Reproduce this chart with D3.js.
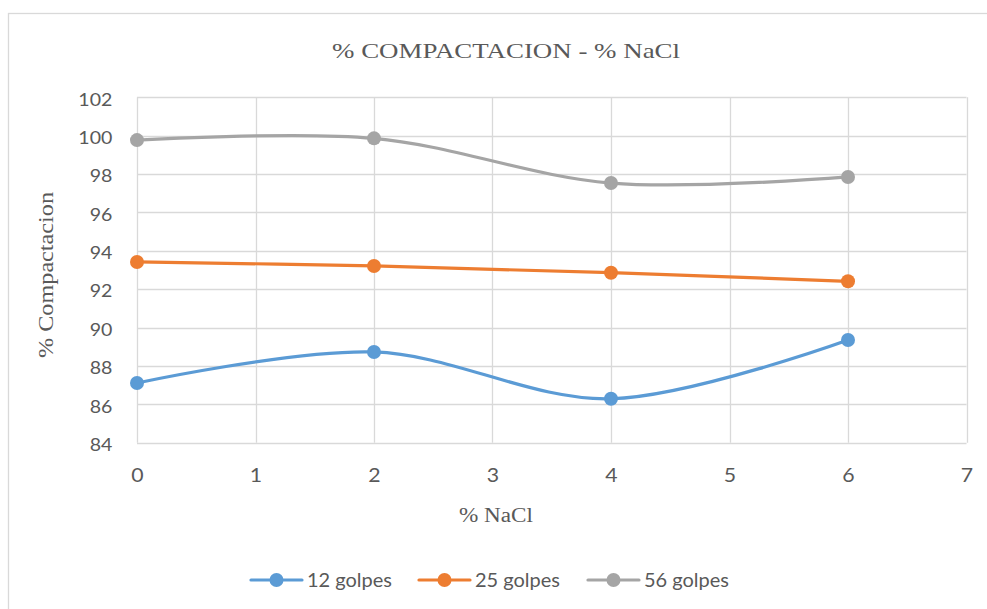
<!DOCTYPE html>
<html><head><meta charset="utf-8">
<script src="https://cdn.jsdelivr.net/npm/d3@7/dist/d3.min.js"></script>
<style>body{margin:0;background:#fff}</style>
</head><body>
<svg id="c" width="987" height="609"></svg>
<script>
const xValues = [0, 2, 4, 6];
const golpes12 = [87.11, 88.73, 86.29, 89.35];
const golpes25 = [93.42, 93.21, 92.86, 92.41];
const golpes56 = [99.77, 99.86, 97.53, 97.85];
const seriesNames = ["12 golpes", "25 golpes", "56 golpes"];
const seriesColors = ["#5b9bd5", "#ed7d31", "#a5a5a5"];
const xTicks = [0, 1, 2, 3, 4, 5, 6, 7];
const yTicks = [84, 86, 88, 90, 92, 94, 96, 98, 100, 102];

const svg = d3.select("#c");
svg.append("rect").attr("x", 8.5).attr("y", 13.5).attr("width", 990).attr("height", 610)
  .attr("fill", "#fff").attr("stroke", "#d9d9d9").attr("stroke-width", 1.3);

const x = d3.scaleLinear().domain([0, 7]).range([137, 966.5]);
const y = d3.scaleLinear().domain([84, 102]).range([442.7, 97.3]);

const grid = svg.append("g");
grid.selectAll(".hg").data(yTicks).enter().append("line")
  .attr("x1", x(0)).attr("x2", x(7)).attr("y1", d => Math.round(y(d)) + 0.5).attr("y2", d => Math.round(y(d)) + 0.5)
  .attr("stroke", "#d9d9d9").attr("stroke-width", 1.3);
grid.selectAll(".vg").data(xTicks).enter().append("line")
  .attr("y1", y(84)).attr("y2", y(102)).attr("x1", d => Math.round(x(d)) + 0.5).attr("x2", d => Math.round(x(d)) + 0.5)
  .attr("stroke", "#d9d9d9").attr("stroke-width", 1.3);

const tickFont = "Lato, 'Open Sans', sans-serif";
const sx = 1.15;
const yAxis = svg.append("g").attr("transform", `translate(${x(0)},0)`)
  .call(d3.axisLeft(y).tickValues(yTicks).tickSize(0).tickPadding(0).tickFormat(d3.format("d")));
yAxis.select(".domain").remove();
yAxis.selectAll("text").attr("font-family", tickFont).attr("font-size", 17).attr("fill", "#595959")
  .attr("x", -24.7 / sx).attr("dy", "0.4em").attr("transform", `translate(0,1) scale(${sx},1)`);

const xAxis = svg.append("g").attr("transform", `translate(0,${y(84)})`)
  .call(d3.axisBottom(x).tickValues(xTicks).tickSize(0).tickPadding(0).tickFormat(d3.format("d")));
xAxis.select(".domain").remove();
xAxis.selectAll("text").attr("font-family", tickFont).attr("font-size", 18.5).attr("fill", "#595959")
  .attr("y", 0).attr("dy", 0).attr("transform", `translate(0,${482.3 - y(84)}) scale(${sx},1)`);

const allSeries = [golpes12, golpes25, golpes56];
const line = d3.line().x(d => x(d[0])).y(d => y(d[1])).curve(d3.curveCardinal.tension(0));
allSeries.forEach((s, i) => {
  const pts = xValues.map((xv, j) => [xv, s[j]]);
  svg.append("path").attr("d", line(pts)).attr("fill", "none")
    .attr("stroke", seriesColors[i]).attr("stroke-width", 3.2).attr("stroke-linecap", "round");
  svg.selectAll(null).data(pts).enter().append("circle")
    .attr("cx", d => x(d[0])).attr("cy", d => y(d[1])).attr("r", 7)
    .attr("fill", seriesColors[i]);
});

svg.append("text").attr("x", 506).attr("y", 57.5).attr("text-anchor", "middle")
  .attr("font-family", "'Liberation Serif', serif").attr("font-size", 22).attr("fill", "#595959")
  .attr("textLength", 348).attr("lengthAdjust", "spacingAndGlyphs")
  .text("% COMPACTACION - % NaCl");
svg.append("text").attr("x", 496).attr("y", 522).attr("text-anchor", "middle")
  .attr("font-family", "'Liberation Serif', serif").attr("font-size", 20).attr("fill", "#595959")
  .attr("textLength", 74).attr("lengthAdjust", "spacingAndGlyphs")
  .text("% NaCl");
svg.append("text").attr("transform", "translate(52.5,275) rotate(-90)").attr("text-anchor", "middle")
  .attr("font-family", "'Liberation Serif', serif").attr("font-size", 21).attr("fill", "#595959")
  .attr("textLength", 166).attr("lengthAdjust", "spacingAndGlyphs")
  .text("% Compactacion");

const legendX = [251, 419, 588];
seriesNames.forEach((n, i) => {
  const g = svg.append("g").attr("transform", `translate(${legendX[i]},580)`);
  g.append("line").attr("x1", 0).attr("x2", 51).attr("stroke", seriesColors[i]).attr("stroke-width", 3.2).attr("stroke-linecap", "round");
  g.append("circle").attr("cx", 25.5).attr("r", 7).attr("fill", seriesColors[i]);
  g.append("text").attr("x", 56).attr("y", 6.5).attr("font-family", tickFont).attr("font-size", 18.5).attr("fill", "#595959")
    .attr("textLength", 85).attr("lengthAdjust", "spacingAndGlyphs").text(n);
});
</script>
</body></html>
